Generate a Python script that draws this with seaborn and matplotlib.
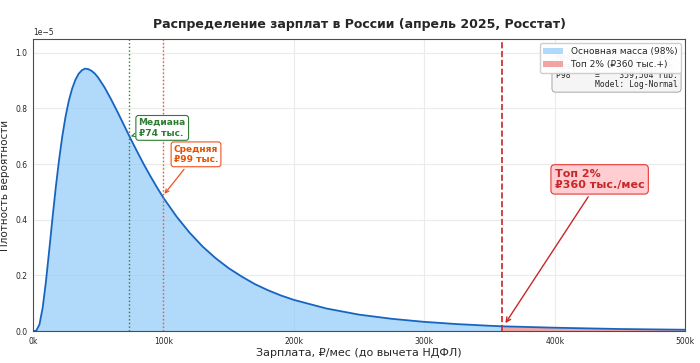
import numpy as np
import pandas as pd
import matplotlib
matplotlib.use('Agg')
import matplotlib.pyplot as plt
import seaborn as sns
from matplotlib.ticker import FuncFormatter

# salary points (thousand rub.) and density (units of 1e-5)
salary_k = [0, 2.5, 5, 7.5, 10, 12.5, 15, 17.5, 20, 22.5, 25, 27.5, 30, 32.5, 35, 37.5,
            40, 42.5, 45, 47.5, 50, 55, 60, 65, 70, 75, 80, 85, 90, 95, 100, 110, 120,
            130, 140, 150, 160, 170, 180, 190, 200, 225, 250, 275, 300, 325, 350, 360,
            400, 450, 500]
density_e5 = [0.0, 0.001, 0.023, 0.084, 0.178, 0.290, 0.405, 0.515, 0.613, 0.699, 0.770,
              0.827, 0.870, 0.902, 0.924, 0.937, 0.943, 0.941, 0.935, 0.925, 0.911, 0.875,
              0.832, 0.786, 0.738, 0.690, 0.644, 0.599, 0.557, 0.517, 0.479, 0.412, 0.354,
              0.304, 0.262, 0.226, 0.196, 0.169, 0.147, 0.128, 0.112, 0.081, 0.059, 0.044,
              0.033, 0.025, 0.019, 0.017, 0.012, 0.0073, 0.0047]

median_k = 73.871
mean_k = 99.434
p98_k = 359.504

stats_lines = ["Median  =     73,871 rub.",
               "Mean    =     99,434 rub.",
               "P98     =    359,504 rub.",
               "Model: Log-Normal"]

df = pd.DataFrame({'salary': np.array(salary_k) * 1000,
                   'density': np.array(density_e5) * 1e-5})
main = df[df['salary'] <= 360000]
top = df[df['salary'] >= 360000]

sns.set_style('whitegrid', {'axes.edgecolor': '0.3', 'grid.color': '0.92'})
plt.rcParams['font.family'] = ['DejaVu Sans']

fig = plt.figure(figsize=(7, 3.63), dpi=100)
ax = fig.add_axes([0.047, 0.088, 0.932, 0.805])

ax.fill_between(main['salary'], main['density'], color='#90CAF9', alpha=0.7,
                label='Основная масса (98%)', lw=0)
ax.fill_between(top['salary'], top['density'], color='#EF9A9A', alpha=0.9,
                label='Топ 2% (₽360 тыс.+)', lw=0)
sns.lineplot(data=df, x='salary', y='density', ax=ax, color='#1565C0', lw=1.3)

ax.axvline(median_k * 1000, color='#2E7D32', ls=':', lw=1)
ax.axvline(mean_k * 1000, color='#F4511E', ls=':', lw=1)
ax.axvline(p98_k * 1000, color='#C62828', ls='--', lw=1.2)

ax.annotate('Медиана\n₽74 тыс.', xy=(75000, 0.70e-5), xytext=(81000, 0.73e-5),
            fontsize=6.5, fontweight='bold', color='#2E7D32', va='center',
            bbox=dict(boxstyle='round,pad=0.3', fc='white', ec='#2E7D32', lw=0.8),
            arrowprops=dict(arrowstyle='->', color='#2E7D32', lw=0.8))
ax.annotate('Средняя\n₽99 тыс.', xy=(99500, 0.485e-5), xytext=(108000, 0.635e-5),
            fontsize=6.5, fontweight='bold', color='#E65100', va='center',
            bbox=dict(boxstyle='round,pad=0.3', fc='white', ec='#F4511E', lw=0.8),
            arrowprops=dict(arrowstyle='->', color='#F4511E', lw=0.9))
ax.annotate('Топ 2%\n₽360 тыс./мес', xy=(361000, 0.02e-5), xytext=(400000, 0.545e-5),
            fontsize=8, fontweight='bold', color='#C62828', va='center',
            bbox=dict(boxstyle='round,pad=0.35', fc='#FFCDD2', ec='#E53935', lw=0.8),
            arrowprops=dict(arrowstyle='->', color='#C62828', lw=1))

ax.text(0.988, 0.83, '\n'.join(stats_lines), transform=ax.transAxes, ha='right',
        va='bottom', family='DejaVu Sans Mono', fontsize=5.8, linespacing=1.0,
        bbox=dict(boxstyle='round,pad=0.45', fc='#F5F5F5', ec='0.6', lw=0.6))

ax.set_xlim(0, 500000)
ax.set_ylim(0, 1.05e-5)
ax.xaxis.set_major_formatter(FuncFormatter(lambda v, p: f'{int(v / 1000)}k'))
ax.tick_params(labelsize=5.5, length=2, pad=2)
ax.yaxis.get_offset_text().set_fontsize(5.5)
ax.set_xlabel('Зарплата, ₽/мес (до вычета НДФЛ)', fontsize=8, labelpad=2)
ax.set_ylabel('Плотность вероятности', fontsize=7.5, labelpad=4)
ax.set_title('Распределение зарплат в России (апрель 2025, Росстат)',
             fontsize=9, fontweight='bold', pad=8)
ax.legend(loc='upper right', fontsize=6.5, frameon=True, framealpha=0.95,
          borderpad=0.4, handlelength=2.2)

fig.savefig('out.png', dpi=100)
